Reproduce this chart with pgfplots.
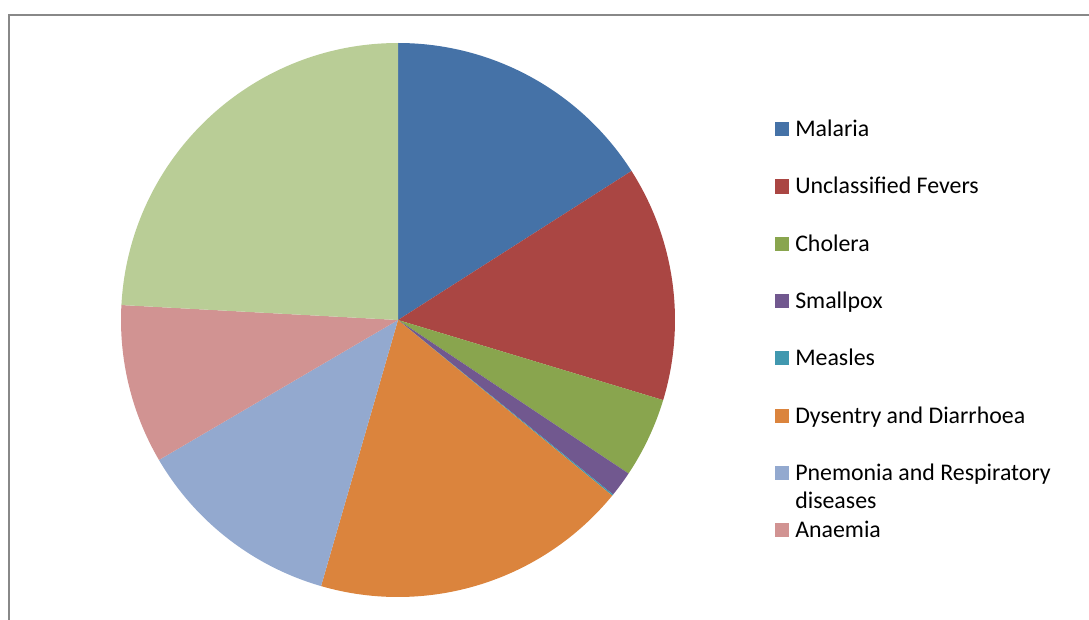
\documentclass[border=0pt]{standalone}
\usepackage{pgfplots}
\pgfplotsset{compat=1.18}
\usepackage{pgfplotstable}
\usepackage{fontspec}
\setmainfont{Carlito}

\definecolor{c0}{HTML}{4572A7}
\definecolor{c1}{HTML}{AA4643}
\definecolor{c2}{HTML}{89A54E}
\definecolor{c3}{HTML}{71588F}
\definecolor{c4}{HTML}{4198AF}
\definecolor{c5}{HTML}{DB843D}
\definecolor{c6}{HTML}{93A9CF}
\definecolor{c7}{HTML}{D19392}
\definecolor{c8}{HTML}{B9CD96}
\definecolor{framegray}{RGB}{136,136,136}

% percentage shares, clockwise from 12 o'clock
\pgfplotstableread{
idx value
0 15.96
1 13.71
2 4.68
3 1.50
4 0.08
5 18.55
6 12.09
7 9.29
8 24.14
}\piedata

\def\cum{0}
\pgfplotsforeachungrouped \i in {0,...,8}{%
  \pgfplotstablegetelem{\i}{value}\of\piedata
  \pgfmathsetmacro\cumnew{\cum+\pgfplotsretval}%
  \pgfmathsetmacro\sa{90-3.6*\cum}%
  \pgfmathsetmacro\ea{90-3.6*\cumnew}%
  \expandafter\xdef\csname pieS\i\endcsname{\sa}%
  \expandafter\xdef\csname pieE\i\endcsname{\ea}%
  \global\let\cum\cumnew
}

\newcommand\legfont{\fontsize{17.9}{21}\selectfont}

\begin{document}
\begin{tikzpicture}[x=0.75pt,y=0.75pt]
\useasboundingbox (0,0) rectangle (1089,619);
\clip (0,0) rectangle (1089,619);
\draw[framegray, line width=1.5pt] (9,604) rectangle (1200,-100);

\begin{axis}[at={(298.5pt,224.25pt)}, anchor=center, hide axis,
  x=207.75pt, y=207.75pt,
  xmin=-1.1, xmax=1.1, ymin=-1.1, ymax=1.1, clip=false]
\pgfplotsinvokeforeach{0,...,8}{
  \fill[c#1] (axis cs:0,0) -- ++({\csname pieS#1\endcsname}:207.75pt)
    arc[start angle={\csname pieS#1\endcsname}, end angle={\csname pieE#1\endcsname}, radius=207.75pt] -- cycle;
}
\end{axis}

\foreach \k/\col/\txt in {0/c0/Malaria, 1/c1/Unclassified Fevers, 2/c2/Cholera, 3/c3/Smallpox, 4/c4/Measles, 5/c5/Dysentry and Diarrhoea, 6/c6/Pnemonia and Respiratory, 7/c7/Anaemia}{
  \pgfmathsetmacro\by{619-(136.5+57.3*\k)}
  \fill[\col] (775,\by+0.3) rectangle (789,\by+14.3);
  \node[anchor=base west, inner sep=0pt, font=\legfont] at (795,\by) {\txt};
}
\pgfmathsetmacro\by{619-(136.5+57.3*6+28.5)}
\node[anchor=base west, inner sep=0pt, font=\legfont] at (795,\by) {diseases};
\end{tikzpicture}
\end{document}
